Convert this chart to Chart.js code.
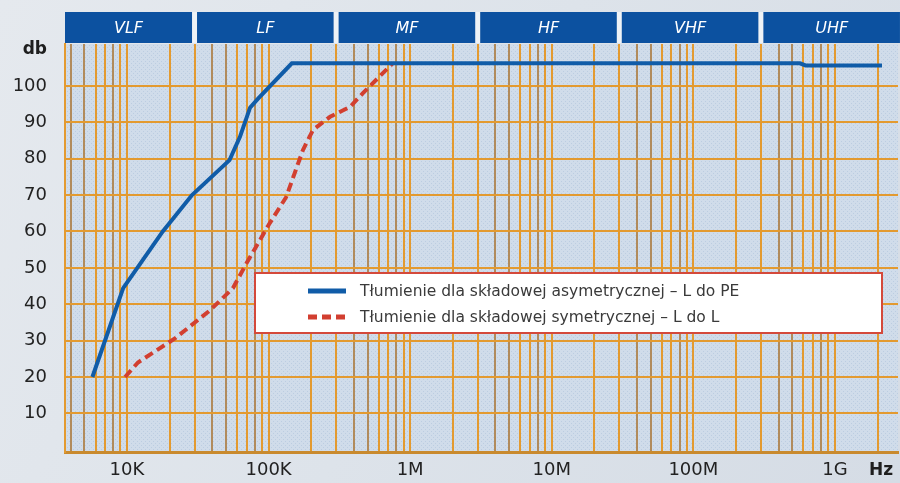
<!DOCTYPE html>
<html><head><meta charset="utf-8">
<script src="https://cdn.jsdelivr.net/npm/chart.js@4.4.0/dist/chart.umd.min.js"></script>
<style>html,body{margin:0;padding:0;background:#dfe5ec;overflow:hidden}canvas{display:block}</style>
</head><body>
<canvas id="c" width="900" height="483"></canvas>
<script>
// ---- data ----
const asymFreq = [5700, 9400, 17900, 28800, 53000, 62800, 74000, 84000, 146000, 5.66e8, 6.2e8, 2.15e9];
const asymDb   = [20, 44.4, 60, 70, 79.6, 86, 94, 96.4, 106.2, 106.2, 105.6, 105.6];
const symFreq  = [9700, 11960, 21800, 38500, 56000, 70000, 102000, 133000, 175000, 206000, 272000, 376000, 464000, 757000];
const symDb    = [20, 24, 30.6, 38.3, 44.4, 51.3, 62.3, 69.4, 82.4, 87.9, 91.5, 94.2, 98, 106.3];
const seriesLabels = ['Tłumienie dla składowej asymetrycznej – L do PE', 'Tłumienie dla składowej symetrycznej – L do L'];
const xLabelValues = [1e4, 1e5, 1e6, 1e7, 1e8, 1e9];
const xLabelTexts  = ['10K', '100K', '1M', '10M', '100M', '1G'];
const yTicks = [10, 20, 30, 40, 50, 60, 70, 80, 90, 100];
const bandEdges  = [3e3, 3e4, 3e5, 3e6, 3e7, 3e8, 3e9];
const bandLabels = ['VLF', 'LF', 'MF', 'HF', 'VHF', 'UHF'];
const xMin = 3650, xMax = 2.79e9, yMin = -0.6, yMax = 111.5;

// ---- styles ----
const ORANGE = '#e39a30', BROWN = '#b18b5c';
const mantColor = {1:ORANGE,2:ORANGE,3:ORANGE,4:BROWN,5:BROWN,6:ORANGE,7:ORANGE,8:BROWN,9:ORANGE};
const FONT = '"DejaVu Sans", sans-serif';

const bgPlugin = {
  id: 'bg',
  beforeDraw(chart) {
    const {ctx, chartArea: a, width, height} = chart;
    ctx.save();
    const g = ctx.createLinearGradient(0, 0, width, height);
    g.addColorStop(0, '#e5e9ee'); g.addColorStop(0.5, '#dde3ea'); g.addColorStop(1, '#d5dce5');
    ctx.fillStyle = g; ctx.fillRect(0, 0, width, height);
    const p = document.createElement('canvas'); p.width = 4; p.height = 4;
    const pc = p.getContext('2d');
    pc.fillStyle = '#d0dcea'; pc.fillRect(0, 0, 4, 4);
    pc.fillStyle = '#bccde1'; pc.fillRect(1, 1, 1, 1); pc.fillRect(3, 3, 1, 1);
    ctx.fillStyle = ctx.createPattern(p, 'repeat');
    ctx.fillRect(a.left, a.top, a.right - a.left, a.bottom - a.top);
    ctx.restore();
  }
};

const overlayPlugin = {
  id: 'overlay',
  afterDatasetsDraw(chart) {
    const {ctx, chartArea: a, width} = chart;
    const xs = chart.scales.x;
    ctx.save();
    // frequency band header
    const top = 12, bot = a.top - 1;
    ctx.fillStyle = '#eef2f6';
    ctx.fillRect(a.left, top, width - a.left, bot - top);
    for (let i = 0; i < bandLabels.length; i++) {
      let l = xs.getPixelForValue(bandEdges[i]) + 2.5;
      let r = xs.getPixelForValue(bandEdges[i + 1]) - 2.5;
      l = Math.max(l, a.left); r = Math.min(r, width);
      ctx.fillStyle = '#0c51a0';
      ctx.fillRect(l, top, r - l, bot - top);
      ctx.fillStyle = '#ffffff';
      ctx.font = 'italic 16px ' + FONT;
      ctx.textAlign = 'center'; ctx.textBaseline = 'middle';
      ctx.fillText(bandLabels[i], (l + r) / 2, (top + bot) / 2 + 1);
    }
    // legend
    const lx = 255, ly = 273, lw = 627, lh = 60;
    ctx.fillStyle = '#ffffff';
    ctx.fillRect(lx, ly, lw, lh);
    ctx.strokeStyle = '#d4493b'; ctx.lineWidth = 2;
    ctx.strokeRect(lx, ly, lw, lh);
    const ds = chart.data.datasets;
    const rows = [291, 317];
    ds.forEach((d, i) => {
      ctx.strokeStyle = d.borderColor; ctx.lineWidth = 5;
      ctx.setLineDash(i === 1 ? [9, 5] : []);
      ctx.beginPath(); ctx.moveTo(308, rows[i]); ctx.lineTo(346, rows[i]); ctx.stroke();
      ctx.setLineDash([]);
      ctx.fillStyle = '#3a3a3a'; ctx.font = '15.5px ' + FONT;
      ctx.textAlign = 'left'; ctx.textBaseline = 'middle';
      ctx.fillText(d.label, 360, rows[i] + 1);
    });
    // axis unit labels
    ctx.fillStyle = '#1e1e1e'; ctx.font = 'bold 17px ' + FONT;
    ctx.textAlign = 'right'; ctx.textBaseline = 'middle';
    ctx.fillText('db', 47, 50);
    ctx.textAlign = 'left';
    ctx.fillText('Hz', 869, 471);
    ctx.restore();
  }
};

new Chart(document.getElementById('c'), {
  type: 'line',
  data: {
    datasets: [
      { label: seriesLabels[0], data: asymFreq.map((f, i) => ({x: f, y: asymDb[i]})),
        borderColor: '#105ca8', borderWidth: 4, pointRadius: 0, tension: 0, fill: false },
      { label: seriesLabels[1], data: symFreq.map((f, i) => ({x: f, y: symDb[i]})),
        borderColor: '#d23f30', borderWidth: 4, borderDash: [9, 5], pointRadius: 0, tension: 0, fill: false }
    ]
  },
  options: {
    responsive: false, animation: false, devicePixelRatio: 1,
    layout: { padding: { top: 44, right: 2, left: 0, bottom: 0 } },
    plugins: { legend: { display: false }, tooltip: { enabled: false } },
    scales: {
      x: {
        type: 'logarithmic', min: xMin, max: xMax,
        afterBuildTicks(scale) {
          const t = [];
          for (let e = 3; e <= 9; e++) for (let m = 1; m <= 9; m++) {
            const v = m * Math.pow(10, e);
            if (v > xMin && v < xMax) t.push({value: v});
          }
          scale.ticks = t;
        },
        afterFit(scale) { scale.height = 31; },
        ticks: {
          autoSkip: false, maxRotation: 0, padding: 8, color: '#222',
          font: { family: FONT, size: 18 },
          callback(v) { const k = xLabelValues.findIndex(x => Math.abs(x - v) / x < 1e-6); return k >= 0 ? xLabelTexts[k] : ''; }
        },
        grid: {
          drawTicks: false, lineWidth: 2,
          color(ctx) {
            const v = ctx.tick ? ctx.tick.value : 0;
            const m = Math.round(v / Math.pow(10, Math.floor(Math.log10(v) + 1e-9)));
            return mantColor[m] || ORANGE;
          }
        },
        border: { color: '#c98a2e', width: 3 }
      },
      y: {
        type: 'linear', min: yMin, max: yMax,
        afterBuildTicks(scale) { scale.ticks = yTicks.map(v => ({value: v})); },
        afterFit(scale) { scale.width = 65; },
        ticks: { padding: 18, color: '#222', font: { family: FONT, size: 18 } },
        grid: { drawTicks: false, lineWidth: 2, color: ORANGE },
        border: { color: ORANGE, width: 2 }
      }
    }
  },
  plugins: [bgPlugin, overlayPlugin]
});
</script>
</body></html>
